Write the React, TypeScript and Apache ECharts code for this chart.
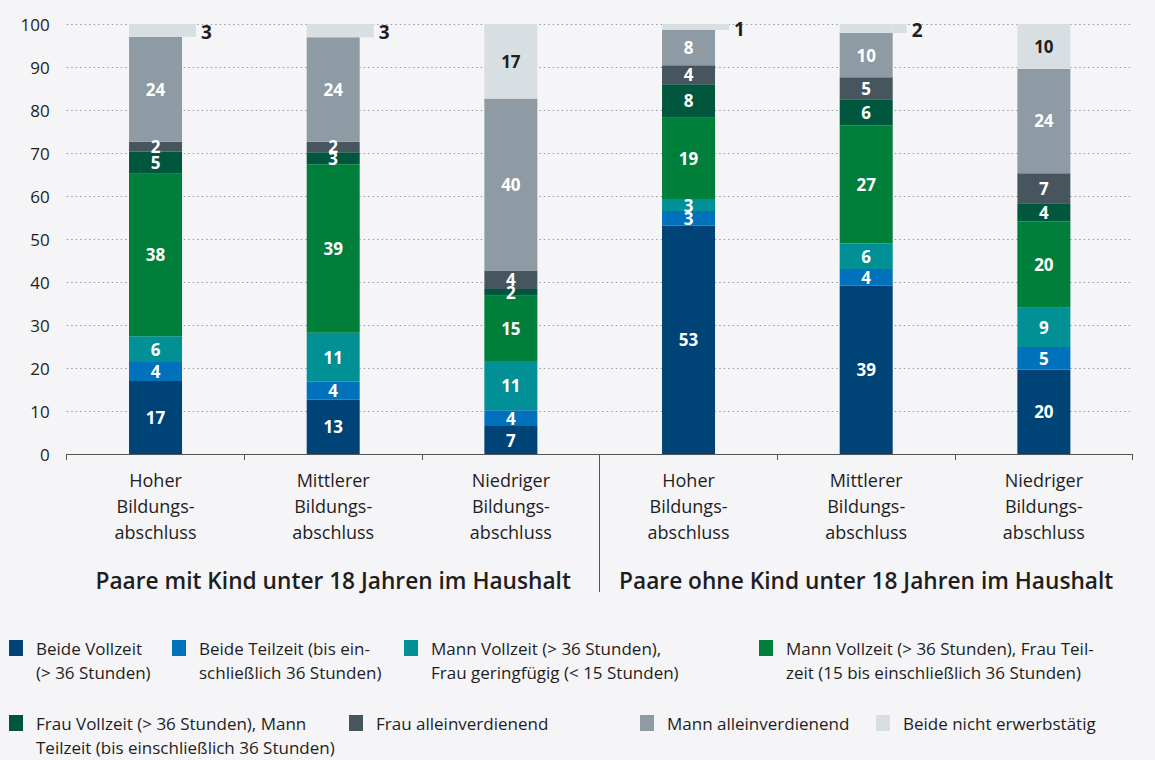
import React, { useEffect, useRef } from "react";
import * as echarts from "echarts";

// ---------- data ----------
const categories = [
  "Hoher\nBildungs-\nabschluss",
  "Mittlerer\nBildungs-\nabschluss",
  "Niedriger\nBildungs-\nabschluss",
  "Hoher\nBildungs-\nabschluss",
  "Mittlerer\nBildungs-\nabschluss",
  "Niedriger\nBildungs-\nabschluss",
];
const groups = [
  "Paare mit Kind unter 18 Jahren im Haushalt",
  "Paare ohne Kind unter 18 Jahren im Haushalt",
];
const seriesNames = [
  "Beide Vollzeit (> 36 Stunden)",
  "Beide Teilzeit (bis einschließlich 36 Stunden)",
  "Mann Vollzeit (> 36 Stunden), Frau geringfügig (< 15 Stunden)",
  "Mann Vollzeit (> 36 Stunden), Frau Teilzeit (15 bis einschließlich 36 Stunden)",
  "Frau Vollzeit (> 36 Stunden), Mann Teilzeit (bis einschließlich 36 Stunden)",
  "Frau alleinverdienend",
  "Mann alleinverdienend",
  "Beide nicht erwerbstätig",
];
const legendTexts = [
  "Beide Vollzeit\n(> 36 Stunden)",
  "Beide Teilzeit (bis ein-\nschließlich 36 Stunden)",
  "Mann Vollzeit (> 36 Stunden),\nFrau geringfügig (< 15 Stunden)",
  "Mann Vollzeit (> 36 Stunden), Frau Teil-\nzeit (15 bis einschließlich 36 Stunden)",
  "Frau Vollzeit (> 36 Stunden), Mann\nTeilzeit (bis einschließlich 36 Stunden)",
  "Frau alleinverdienend",
  "Mann alleinverdienend",
  "Beide nicht erwerbstätig",
];
const beideVollzeit = [17.0, 12.6, 6.5, 53.1, 39.1, 19.6];
const beideTeilzeit = [4.4, 4.2, 3.7, 3.4, 3.9, 5.3];
const mannVollFrauGering = [6.0, 11.4, 11.4, 2.8, 6.0, 9.1];
const mannVollFrauTeil = [37.8, 39.2, 15.2, 18.9, 27.4, 20.1];
const frauVollMannTeil = [5.1, 2.8, 1.6, 7.8, 6.1, 4.2];
const frauAllein = [2.3, 2.4, 4.3, 4.4, 5.1, 7.0];
const mannAllein = [24.4, 24.3, 40.0, 8.2, 10.3, 24.3];
const beideNicht = [3.0, 3.1, 17.3, 1.4, 2.1, 10.4];
const seriesValues = [
  beideVollzeit,
  beideTeilzeit,
  mannVollFrauGering,
  mannVollFrauTeil,
  frauVollMannTeil,
  frauAllein,
  mannAllein,
  beideNicht,
];

// ---------- style ----------
const COLORS = [
  "#004477",
  "#0072bb",
  "#009096",
  "#007f3a",
  "#00573d",
  "#47565e",
  "#8e9ba4",
  "#d8dfe2",
];
const BG = "#f5f4f7";
const TEXT = "#1e1e1e";
const FONT = "'Open Sans', 'Noto Sans', sans-serif";
const W = 1155;
const H = 760;
const GRID_LEFT = 66.7;
const GRID_RIGHT = 22.3;
const GRID_TOP = 24;
const GRID_BOTTOM_Y = 454;
const PX_PER_UNIT = (GRID_BOTTOM_Y - GRID_TOP) / 100;
const LEGEND_LH = 24;

// legend layout: [iconX, iconCenterY]
const legendPos: [number, number][] = [
  [9, 648],
  [172, 648],
  [404, 648],
  [759, 648],
  [9, 723],
  [349, 723],
  [640, 723],
  [876, 723],
];

export default function App() {
  const ref = useRef<HTMLDivElement>(null);
  useEffect(() => {
    document.body.style.margin = "0";
    document.body.style.background = BG;
    const chart = echarts.init(ref.current!, null, { renderer: "svg" });

    const series = seriesValues.map((vals, si) => {
      const isLast = si === seriesValues.length - 1;
      const data = vals.map((v) => {
        if (isLast && v < 5) {
          return {
            value: v,
            label: {
              show: true,
              position: "right",
              distance: 0,
              formatter: (p: any) => `{t|}{n|${Math.round(p.value)}}`,
              rich: {
                t: {
                  width: 14,
                  height: v * PX_PER_UNIT,
                  backgroundColor: COLORS[si],
                },
                n: {
                  fontSize: 19,
                  fontWeight: "bold",
                  color: TEXT,
                  fontFamily: FONT,
                  padding: [3, 0, 0, 5],
                },
              },
            },
          };
        }
        return { value: v };
      });
      return {
        type: "bar",
        name: seriesNames[si],
        stack: "total",
        barWidth: 53,
        xAxisIndex: 0,
        itemStyle: { color: COLORS[si] },
        label: {
          show: true,
          position: "inside",
          color: isLast ? TEXT : "#ffffff",
          fontSize: 17,
          fontWeight: "bold",
          fontFamily: FONT,
          formatter: (p: any) => `${Math.round(p.value)}`,
        },
        data,
      };
    });

    const legends = seriesNames.map((name, i) => {
      const twoLine = legendTexts[i].includes("\n");
      const [x, cy] = legendPos[i];
      // a blank leading line centres the first text line on the marker
      const shown = twoLine ? "\n" + legendTexts[i] : legendTexts[i];
      const nLines = shown.split("\n").length;
      return {
        show: true,
        data: [name],
        left: x,
        top: cy - (nLines * LEGEND_LH) / 2,
        orient: "horizontal",
        icon: "rect",
        itemWidth: 14,
        itemHeight: 16,
        itemGap: 0,
        padding: 0,
        selectedMode: false,
        formatter: () => shown,
        textStyle: {
          fontSize: 17,
          color: TEXT,
          lineHeight: LEGEND_LH,
          fontFamily: FONT,
          padding: [0, 0, 0, 8],
        },
      };
    });

    const plotWidth = W - GRID_LEFT - GRID_RIGHT;
    const sepX = Math.round(GRID_LEFT + plotWidth / 2) - 0.5;

    const option: any = {
      animation: false,
      backgroundColor: BG,
      textStyle: { fontFamily: FONT },
      grid: {
        left: GRID_LEFT,
        right: GRID_RIGHT,
        top: GRID_TOP,
        bottom: H - GRID_BOTTOM_Y,
        containLabel: false,
      },
      legend: legends,
      xAxis: [
        {
          type: "category",
          data: categories,
          axisLine: { lineStyle: { color: "#555555", width: 1 } },
          axisTick: { show: true, length: 6, lineStyle: { color: "#555555" } },
          axisLabel: {
            interval: 0,
            fontSize: 18,
            lineHeight: 26,
            color: TEXT,
            margin: 13,
            fontFamily: FONT,
          },
        },
        {
          type: "category",
          data: groups,
          position: "bottom",
          offset: 107,
          axisLine: { show: false },
          axisTick: { show: false },
          axisLabel: {
            interval: 0,
            fontSize: 22.7,
            fontWeight: 600,
            color: TEXT,
            margin: 8,
            fontFamily: FONT,
          },
        },
      ],
      yAxis: {
        type: "value",
        min: 0,
        max: 100,
        interval: 10,
        axisLine: { show: false },
        axisTick: { show: false },
        axisLabel: { fontSize: 17, color: TEXT, margin: 17, fontFamily: FONT },
        splitLine: {
          lineStyle: { color: "#9a9a9a", width: 1, type: [1.5, 3] },
        },
      },
      graphic: [
        {
          type: "line",
          shape: { x1: sepX, y1: GRID_BOTTOM_Y, x2: sepX, y2: 592 },
          style: { stroke: "#555555", lineWidth: 1 },
          silent: true,
        },
      ],
      series,
    };

    chart.setOption(option);
    return () => chart.dispose();
  }, []);
  return <div ref={ref} style={{ width: W, height: H, background: BG }} />;
}
